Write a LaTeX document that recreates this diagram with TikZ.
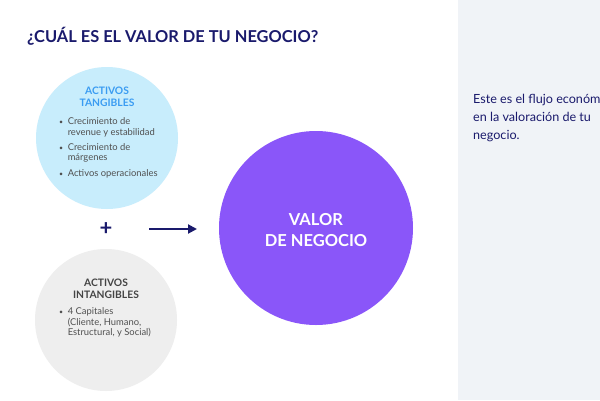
\documentclass[tikz,border=0pt]{standalone}
\usepackage{fontspec}
\setmainfont{Lato}
\usetikzlibrary{arrows.meta}
\definecolor{marino}{HTML}{1A1A6C}
\definecolor{celeste}{HTML}{C8EDFC}
\definecolor{azul}{HTML}{3A9CF2}
\definecolor{niebla}{HTML}{EEEEEE}
\definecolor{grafito}{HTML}{444444}
\definecolor{texto}{HTML}{505050}
\definecolor{morado}{HTML}{8A56F9}
\definecolor{panel}{HTML}{F0F3F7}

\begin{document}
\begin{tikzpicture}[x=1pt,y=-1pt,
   titulo/.style={anchor=base west,inner sep=0pt,text=marino,font=\bfseries\fontsize{16.4}{20}\selectfont},
   circulo/.style={circle,inner sep=0pt,minimum size=#1},
   cabecera/.style={align=center,font=\bfseries\fontsize{10.3}{12}\selectfont},
   lista/.style={anchor=north west,inner sep=0pt,text=texto,font=\fontsize{9.4}{10.6}\selectfont},
   valor/.style={align=center,text=white,font=\bfseries\fontsize{16.5}{21}\selectfont},
   nota/.style={anchor=north west,inner sep=0pt,align=left,text=marino,font=\fontsize{12.6}{18}\selectfont}]

  \useasboundingbox (0,0) rectangle (600,400);
  \fill[white] (0,0) rectangle (600,400);

  % panel lateral
  \fill[panel] (458,0) rectangle (600,400);

  % --- titulo ---
  \node[titulo] (titulo) at (27,42) {¿CUÁL ES EL VALOR DE TU NEGOCIO?};

  % --- activos tangibles ---
  \node[circulo=142pt,fill=celeste] (tangibles) at (107,138) {};
  \node[cabecera,text=azul] (cab-tangibles) at (107,97) {ACTIVOS\\TANGIBLES};
  \node[lista] (lista-tangibles) at (59,117) {%
    \begin{tabular}{@{}l@{\hspace{4.5pt}}l@{}}
      {\scriptsize\textbullet} & Crecimiento de\\
                               & revenue y estabilidad\\[4.5pt]
      {\scriptsize\textbullet} & Crecimiento de\\
                               & márgenes\\[4.5pt]
      {\scriptsize\textbullet} & Activos operacionales
    \end{tabular}};

  % --- activos intangibles ---
  \node[circulo=142pt,fill=niebla] (intangibles) at (106,320) {};
  \node[cabecera,text=grafito] (cab-intangibles) at (106,288.5) {ACTIVOS\\INTANGIBLES};
  \node[lista] (lista-intangibles) at (59,307) {%
    \begin{tabular}{@{}l@{\hspace{4.5pt}}l@{}}
      {\scriptsize\textbullet} & 4 Capitales\\
                               & (Cliente, Humano,\\
                               & Estructural, y Social)
    \end{tabular}};

  % --- suma y flecha ---
  \node[text=marino,font=\bfseries\fontsize{22}{22}\selectfont] (suma) at (106,229) {+};
  \coordinate (flecha-ini) at (149,229);
  \coordinate (flecha-fin) at (197,229);
  \draw[marino,line width=2pt,-{Triangle[length=9pt,width=9pt]}] (flecha-ini) -- (flecha-fin);

  % --- valor de negocio ---
  \node[circulo=194pt,fill=morado] (valor) at (316,228) {};
  \node[valor] (txt-valor) at (316,230) {VALOR\\DE NEGOCIO};

  % --- nota lateral ---
  \begin{scope}
    \clip (458,0) rectangle (600,400);
    \node[nota] (nota) at (473,94) {Este es el flujo económico\\en la valoración de tu\\negocio.};
  \end{scope}
\end{tikzpicture}
\end{document}
